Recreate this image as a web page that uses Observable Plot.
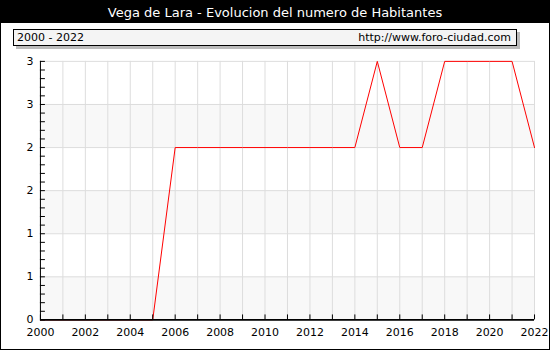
<!DOCTYPE html>
<html><head><meta charset="utf-8">
<script src="https://cdn.jsdelivr.net/npm/d3@7"></script>
<script src="https://cdn.jsdelivr.net/npm/@observablehq/plot@0.6"></script>
<style>
body{margin:0;background:#fff;}
#wrap{position:relative;width:548px;height:348px;border:1px solid #000;overflow:hidden;font-family:"DejaVu Sans",Verdana,sans-serif;}
#title{position:absolute;left:0;top:0;width:548px;height:22px;background:#000;color:#fff;font-size:13px;line-height:23px;text-align:center;}
#box{position:absolute;left:12px;top:28px;width:502px;height:15px;background:#f4f4f4;border:1px solid #000;box-shadow:3px 3px 0 #bbb;font-size:11px;line-height:15px;}
#box .l{position:absolute;left:3px;top:0;}
#box .r{position:absolute;right:5px;top:0;}
#chart{position:absolute;left:-1px;top:-1px;}
</style></head>
<body>
<div id="wrap">
  <div id="chart"></div>
  <div id="title">Vega de Lara - Evolucion del numero de Habitantes</div>
  <div id="box"><span class="l">2000 - 2022</span><span class="r">http://www.foro-ciudad.com</span></div>
</div>
<script>
const years = [2000,2001,2002,2003,2004,2005,2006,2007,2008,2009,2010,2011,2012,2013,2014,2015,2016,2017,2018,2019,2020,2021,2022];
const habitantes = [0,0,0,0,0,0,2,2,2,2,2,2,2,2,2,3,2,2,3,3,3,3,2];
const yTicks = [0,0.5,1,1.5,2,2.5,3];
const yTickLabels = ["0","1","1","2","2","3","3"];
const xLabelYears = [2000,2002,2004,2006,2008,2010,2012,2014,2016,2018,2020,2022];
const bandStarts = [0,1,2];
const bandEnds = [0.5,1.5,2.5];
const minorTicks = d3.range(0,31).map(i => i/10);

const data = years.map((y,i)=>({year:y, value:habitantes[i]}));
const bands = bandStarts.map((s,i)=>({y1:s, y2:bandEnds[i]}));

const plot = Plot.plot({
  width: 550, height: 350,
  marginLeft: 40, marginRight: 15, marginTop: 61, marginBottom: 30,
  style: {fontFamily: '"DejaVu Sans", Verdana, sans-serif', fontSize: "11px", color: "#000", background: "transparent"},
  x: {domain: [2000, 2022]},
  y: {domain: [0, 3]},
  marks: [
    Plot.rectY(bands, {x1: 2000, x2: 2022, y1: "y1", y2: "y2", fill: "#f8f8f8"}),
    Plot.gridX(years, {stroke: "#dddddd", strokeOpacity: 1}),
    Plot.gridY(yTicks, {stroke: "#dddddd", strokeOpacity: 1}),
    Plot.line(data, {x: "year", y: "value", stroke: "#ff0000", strokeWidth: 1}),
    Plot.ruleY([0], {stroke: "#000", strokeWidth: 1.6}),
    Plot.ruleX([2000], {stroke: "#000"}),
    Plot.axisY({ticks: minorTicks, tickSize: 5, dx: 5, tickFormat: () => "", label: null}),
    Plot.axisY({ticks: yTicks, tickSize: 0, tickPadding: 7, tickFormat: (d) => yTickLabels[yTicks.indexOf(d)], label: null}),
    Plot.axisX({ticks: years, tickSize: 5, dy: -5, tickFormat: () => "", label: null}),
    Plot.axisX({ticks: xLabelYears, tickSize: 0, tickPadding: 8, tickFormat: d => String(d), label: null})
  ]
});
document.getElementById("chart").appendChild(plot);
</script>
</body></html>
